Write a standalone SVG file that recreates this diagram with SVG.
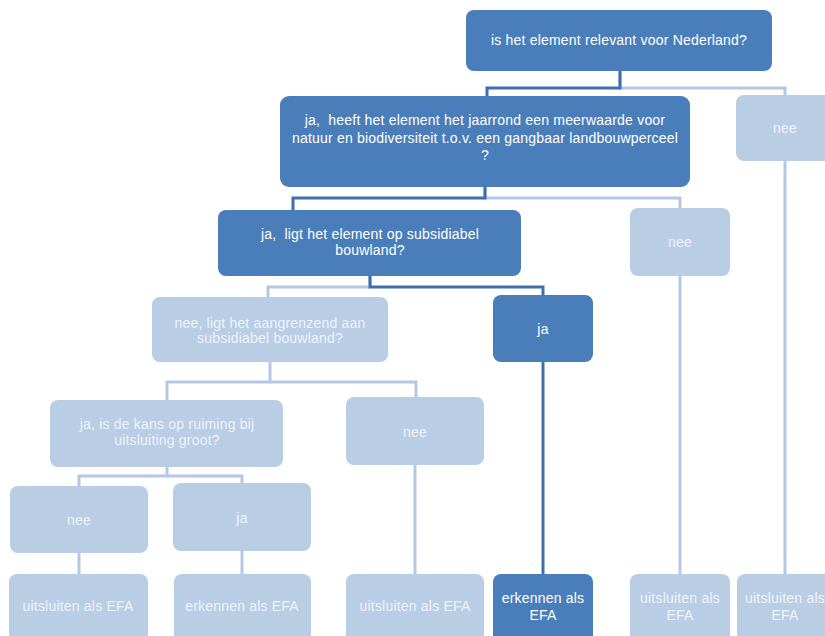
<svg xmlns="http://www.w3.org/2000/svg" width="825" height="636" viewBox="0 0 825 636">
<style>
.d{fill:#4a7ebb}
.l{fill:#b9cde5}
.cd{stroke:#3f6fb0;stroke-width:3;fill:none}
.cl{stroke:#b4c8e6;stroke-width:3;fill:none}
text{font-family:"Liberation Sans",Arial,sans-serif;font-size:14px;letter-spacing:0.2px;fill:#ffffff;text-anchor:middle;white-space:pre}
.lt{fill:#eef3fa}
</style>
<rect width="825" height="636" fill="#ffffff"/>
<g id="connectors">
<path class="cl" d="M620 71V88H785V161"/>
<path class="cd" d="M620 71V88H487V96"/>
<path class="cl" d="M785 161V574"/>
<path class="cl" d="M485 187V198H680V208"/>
<path class="cd" d="M485 187V198H293V210"/>
<path class="cl" d="M680 276V574"/>
<path class="cl" d="M370 276V287H268V297"/>
<path class="cd" d="M370 276V287H543V295"/>
<path class="cd" d="M543 362V574"/>
<path class="cl" d="M270 362V382H167V400"/>
<path class="cl" d="M270 382H416V397"/>
<path class="cl" d="M415 465V574"/>
<path class="cl" d="M167 467V476H79V486"/>
<path class="cl" d="M167 476H242V483"/>
<path class="cl" d="M79 553V574"/>
<path class="cl" d="M242 551V574"/>
</g>
<g id="n1"><rect class="d" x="466" y="10" width="306" height="61" rx="8"/><text x="619" y="45">is het element relevant voor Nederland?</text></g>
<g id="n2"><rect class="d" x="280" y="96" width="410" height="91" rx="9"/><text x="485" y="125" xml:space="preserve">ja,  heeft het element het jaarrond een meerwaarde voor</text><text x="485" y="143">natuur en biodiversiteit t.o.v. een gangbaar landbouwperceel</text><text x="485" y="160">?</text></g>
<g id="n3"><rect class="l" x="736" y="95" width="100" height="66" rx="8"/><text class="lt" x="785" y="133">nee</text></g>
<g id="n4"><rect class="d" x="218" y="210" width="303" height="66" rx="8"/><text x="370" y="239" xml:space="preserve">ja,  ligt het element op subsidiabel</text><text x="370" y="255">bouwland?</text></g>
<g id="n5"><rect class="l" x="630" y="208" width="100" height="68" rx="8"/><text class="lt" x="680" y="247">nee</text></g>
<g id="n6"><rect class="l" x="152" y="297" width="236" height="65" rx="8"/><text class="lt" x="270" y="328">nee, ligt het aangrenzend aan</text><text class="lt" x="270" y="343">subsidiabel bouwland?</text></g>
<g id="n7"><rect class="d" x="493" y="295" width="100" height="67" rx="8"/><text x="543" y="334">ja</text></g>
<g id="n8"><rect class="l" x="50" y="400" width="233" height="67" rx="8"/><text class="lt" x="167" y="429">ja, is de kans op ruiming bij</text><text class="lt" x="167" y="445">uitsluiting groot?</text></g>
<g id="n9"><rect class="l" x="346" y="397" width="138" height="68" rx="8"/><text class="lt" x="415" y="437">nee</text></g>
<g id="n10"><rect class="l" x="10" y="486" width="138" height="67" rx="8"/><text class="lt" x="79" y="525">nee</text></g>
<g id="n11"><rect class="l" x="173" y="483" width="138" height="68" rx="8"/><text class="lt" x="242" y="523">ja</text></g>
<g id="n12"><rect class="l" x="9" y="574" width="139" height="70" rx="8"/><text class="lt" x="78" y="611">uitsluiten als EFA</text></g>
<g id="n13"><rect class="l" x="174" y="574" width="137" height="70" rx="8"/><text class="lt" x="242" y="611">erkennen als EFA</text></g>
<g id="n14"><rect class="l" x="346" y="574" width="138" height="70" rx="8"/><text class="lt" x="415" y="611">uitsluiten als EFA</text></g>
<g id="n15"><rect class="d" x="493" y="574" width="100" height="70" rx="8"/><text x="543" y="603">erkennen als</text><text x="543" y="620">EFA</text></g>
<g id="n16"><rect class="l" x="630" y="574" width="100" height="70" rx="8"/><text class="lt" x="680" y="603">uitsluiten als</text><text class="lt" x="680" y="620">EFA</text></g>
<g id="n17"><rect class="l" x="737" y="574" width="100" height="70" rx="8"/><text class="lt" x="785" y="603">uitsluiten als</text><text class="lt" x="785" y="620">EFA</text></g>
</svg>
